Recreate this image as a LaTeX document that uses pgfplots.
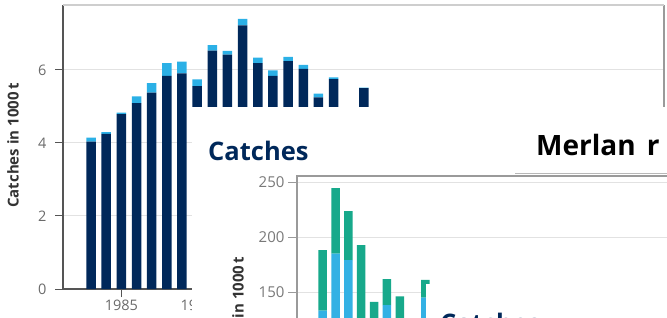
\documentclass[border=0pt]{standalone}
\usepackage{pgfplots}
\pgfplotsset{compat=1.18}
\usepackage{fontspec}
\setmainfont{Open Sans}
\definecolor{navy}{HTML}{00285A}
\definecolor{lblue}{HTML}{2BB0E6}
\definecolor{teal2}{HTML}{17A98B}
\definecolor{blue2}{HTML}{33B1E4}
\definecolor{tickgray}{HTML}{6A6A6A}
\definecolor{gridgray}{HTML}{E2E2E2}
\definecolor{axisgray}{HTML}{555555}
\definecolor{boxgray}{HTML}{9A9A9A}
\definecolor{labelgray}{HTML}{333333}
\begin{document}
\begin{tikzpicture}
\useasboundingbox (0,0) rectangle (667pt,317pt);
\clip (0,0) rectangle (667pt,317pt);
% ---------- main (back) chart ----------
\begin{axis}[at={(63pt,28pt)}, anchor=south west, scale only axis,
  width=601pt, height=284pt,
  xmin=1981.15, xmax=2020.8, ymin=0, ymax=7.78,
  axis x line*=bottom, axis y line*=left,
  axis line style={-, draw=axisgray, line width=1.3pt},
  ybar stacked, bar width=9.5pt,
  ytick={0,2,4,6}, xtick={1985,1990,...,2020},
  ymajorgrids, grid style={gridgray, line width=1pt},
  tick align=outside, major tick length=8pt,
  tick style={axisgray, line width=1pt},
  tick label style={font=\fontsize{14.5}{14.5}\selectfont, text=tickgray},
  yticklabel style={xshift=-5pt},
  xticklabel style={yshift=1pt},
  /pgf/number format/assume math mode=true,
  /pgf/number format/1000 sep={},
  clip=false]
\addplot[fill=navy, draw=none] coordinates {
(1983,4.04) (1984,4.25) (1985,4.79) (1986,5.09) (1987,5.38) (1988,5.84)
(1989,5.91) (1990,5.56) (1991,6.53) (1992,6.42) (1993,7.22) (1994,6.19)
(1995,5.84) (1996,6.24) (1997,6.03) (1998,5.25) (1999,5.75) (2001,5.50)};
\addplot[fill=lblue, draw=none] coordinates {
(1983,0.11) (1984,0.05) (1985,0.04) (1986,0.19) (1987,0.26) (1988,0.35)
(1989,0.32) (1990,0.18) (1991,0.15) (1992,0.10) (1993,0.18) (1994,0.15)
(1995,0.15) (1996,0.12) (1997,0.11) (1998,0.10) (1999,0.05) (2001,0.02)};
\draw[gridgray!80!gray, line width=1.5pt] (rel axis cs:0,1) -- (rel axis cs:1,1);
\draw[boxgray, line width=1.3pt] (rel axis cs:1,1) -- (rel axis cs:1,0);
\end{axis}
\node[rotate=90, font=\bfseries\fontsize{15}{15}\selectfont, text=labelgray] at (13pt,171.5pt) {Catches in 1000\,t};
% ---------- overlay 1 ----------
\fill[white] (191.5pt,-5pt) rectangle (672pt,210pt);
\begin{axis}[at={(297pt,-140pt)}, anchor=south west, scale only axis,
  width=420pt, height=281pt,
  xmin=-1, xmax=31.7, ymin=0, ymax=255.5,
  axis line style={draw=boxgray, line width=1.2pt},
  ybar stacked, bar width=8.5pt,
  ytick={0,50,...,250}, xtick=\empty, ytick pos=left,
  ymajorgrids, grid style={gridgray, line width=1pt},
  tick align=outside, major tick length=9pt,
  tick style={boxgray, line width=1pt},
  tick label style={font=\fontsize{15}{15}\selectfont, text=tickgray!90},
  /pgf/number format/assume math mode=true]
\addplot[fill=blue2, draw=none] coordinates {
(1,133) (2,185) (3,179) (4,120) (5,110) (6,138) (7,118) (8,95) (9,145)};
\addplot[fill=teal2, draw=none] coordinates {
(1,55) (2,59.5) (3,44.6) (4,72.7) (5,31) (6,23.8) (7,28) (8,20) (9,16)};
\end{axis}
\draw[boxgray!70, line width=1pt] (515pt,143.5pt) -- (672pt,143.5pt);
\node[rotate=90, anchor=east, font=\bfseries\fontsize{15}{15}\selectfont, text=labelgray] at (238pt,64pt) {Catches in 1000\,t};
\node[anchor=base west, inner sep=0, font=\bfseries\fontsize{28}{28}\selectfont, text=black] at (536pt,162pt) {Merlan\hspace{4pt} r};
\node[anchor=base west, inner sep=0, font=\bfseries\fontsize{25.5}{25.5}\selectfont, text=navy] at (208pt,156.5pt) {Catches};
% ---------- overlay 3 ----------
\fill[white] (425.5pt,-5pt) rectangle (672pt,33pt);
\node[anchor=base west, inner sep=0, font=\bfseries\fontsize{25.5}{25.5}\selectfont, text=navy] at (440pt,-15pt) {Catches};
\end{tikzpicture}
\end{document}
